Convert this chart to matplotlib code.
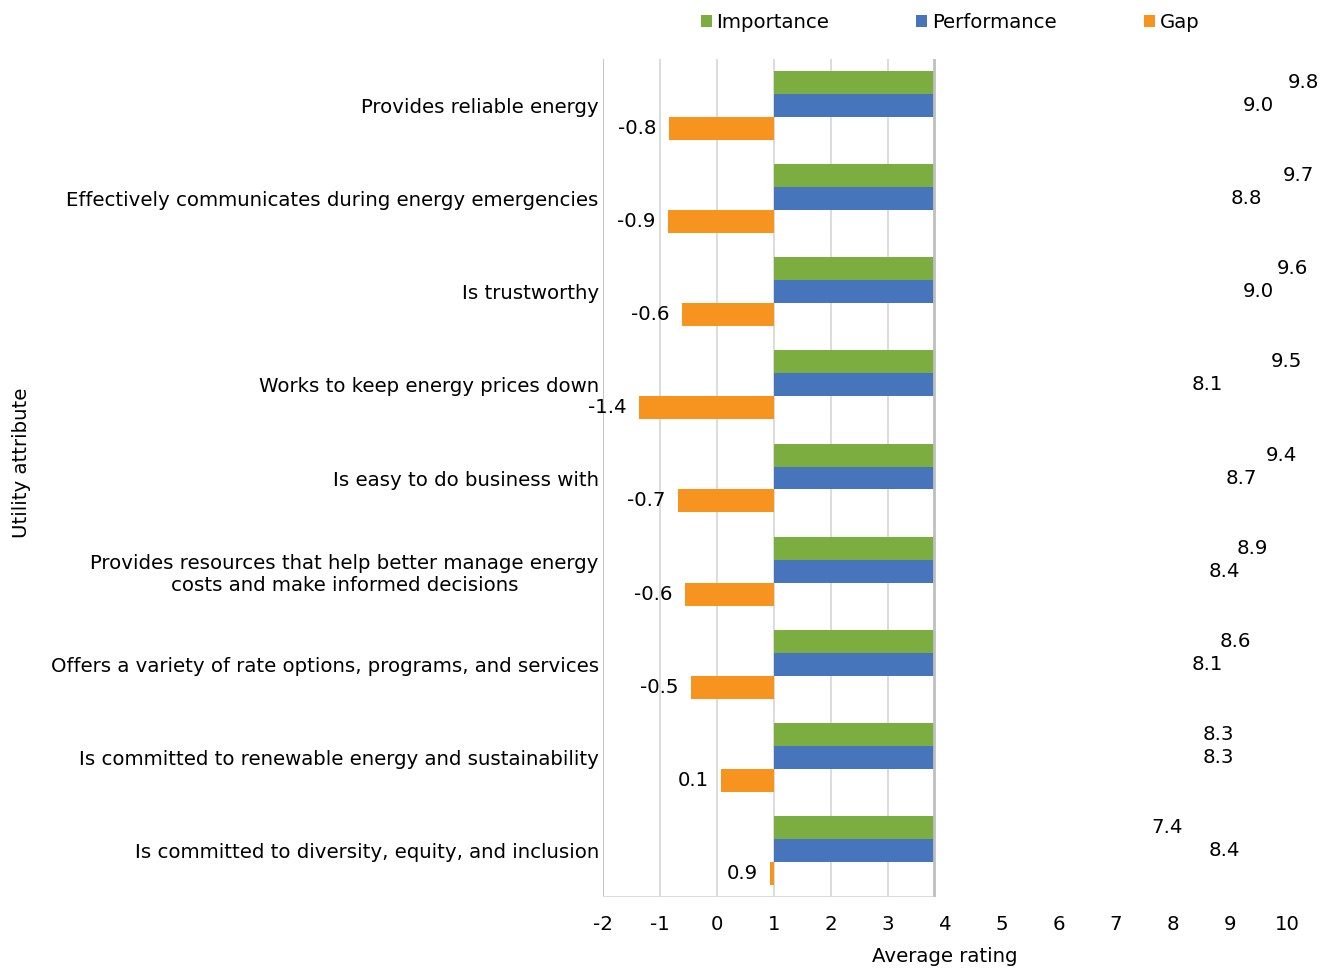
import matplotlib
matplotlib.use("Agg")
import matplotlib.pyplot as plt
from matplotlib.patches import Rectangle
import numpy as np

categories = [
    "Provides reliable energy",
    "Effectively communicates during energy emergencies",
    "Is trustworthy",
    "Works to keep energy prices down",
    "Is easy to do business with",
    "Provides resources that help better manage energy\ncosts and make informed decisions",
    "Offers a variety of rate options, programs, and services",
    "Is committed to renewable energy and sustainability",
    "Is committed to diversity, equity, and inclusion",
]
importance = [9.8, 9.7, 9.6, 9.5, 9.4, 8.9, 8.6, 8.3, 7.4]
performance = [9.0, 8.8, 9.0, 8.1, 8.7, 8.4, 8.1, 8.3, 8.4]
gap = [-0.84, -0.86, -0.61, -1.36, -0.68, -0.56, -0.46, 0.07, 0.93]
xticks = [-2, -1, 0, 1, 2, 3, 4, 5, 6, 7, 8, 9, 10]

GREEN = "#7BAD41"
BLUE = "#4775BB"
ORANGE = "#F79420"
FS = 14.2

plt.rcParams["font.family"] = ["DejaVu Sans"]
fig = plt.figure(figsize=(13.35, 9.71), dpi=100)
ax = fig.add_axes([603 / 1335, 1 - 897 / 971, 684 / 1335, 838 / 971])

base = 1.0
edge = 3.8
h = 0.247
y = np.arange(len(categories))

clip = Rectangle((-2, -0.5), edge + 2, len(categories), transform=ax.transData)

b1 = ax.barh(y - h, np.array(importance) - base, left=base, height=h, color=GREEN, label="Importance", zorder=3)
b2 = ax.barh(y, np.array(performance) - base, left=base, height=h, color=BLUE, label="Performance", zorder=3)
b3 = ax.barh(y + h, np.array(gap) - base, left=base, height=h, color=ORANGE, label="Gap", zorder=3)
for bars in (b1, b2):
    for p in bars:
        p.set_clip_path(clip)

for yi, v in zip(y - h, importance):
    ax.annotate(f"{v:.1f}", (v, yi), xytext=(9, 0), textcoords="offset points",
                ha="left", va="center", fontsize=FS)
for yi, v in zip(y, performance):
    ax.annotate(f"{v:.1f}", (v, yi), xytext=(9, 0), textcoords="offset points",
                ha="left", va="center", fontsize=FS)
for yi, v in zip(y + h, gap):
    ax.annotate(f"{v:.1f}", (v, yi), xytext=(-9, 0), textcoords="offset points",
                ha="right", va="center", fontsize=FS)

ax.set_xlim(-2, 10)
ax.set_ylim(len(categories) - 0.5, -0.5)
for s in ax.spines.values():
    s.set_visible(False)

for xv in [-1, 0, 1, 2, 3]:
    ax.plot([xv, xv], [-0.5, len(categories) - 0.5], color="#D9D9D9", lw=1.3, zorder=1)
ax.plot([-2, -2], [-0.5, len(categories) - 0.5], color="#BFBFBF", lw=1.3, zorder=1)
ax.plot([edge, edge], [-0.5, len(categories) - 0.5], color="#BFBFBF", lw=2, zorder=4)
ax.plot([-2, edge], [len(categories) - 0.5] * 2, color="#D9D9D9", lw=1.3, zorder=1)

ax.set_xticks(xticks)
ax.set_xticklabels([str(t) for t in xticks], fontsize=FS)
ax.set_yticks(y)
ax.set_yticklabels(categories, fontsize=FS, multialignment="center")
ax.tick_params(axis="both", length=0)
ax.tick_params(axis="y", pad=3)
ax.tick_params(axis="x", pad=13)

ax.set_xlabel("Average rating", fontsize=FS, labelpad=9)
fig.text(22 / 1335, 1 - 463 / 971, "Utility attribute", rotation=90, ha="center", va="center", fontsize=FS)

fig.legend(handles=[b1, b2, b3], loc="center", bbox_to_anchor=(950 / 1335, 1 - 22 / 971),
           ncol=3, frameon=False, fontsize=FS, handlelength=0.56, handleheight=0.56,
           handletextpad=0.25, columnspacing=4.4, borderpad=0)

fig.savefig("out.png", dpi=100)
